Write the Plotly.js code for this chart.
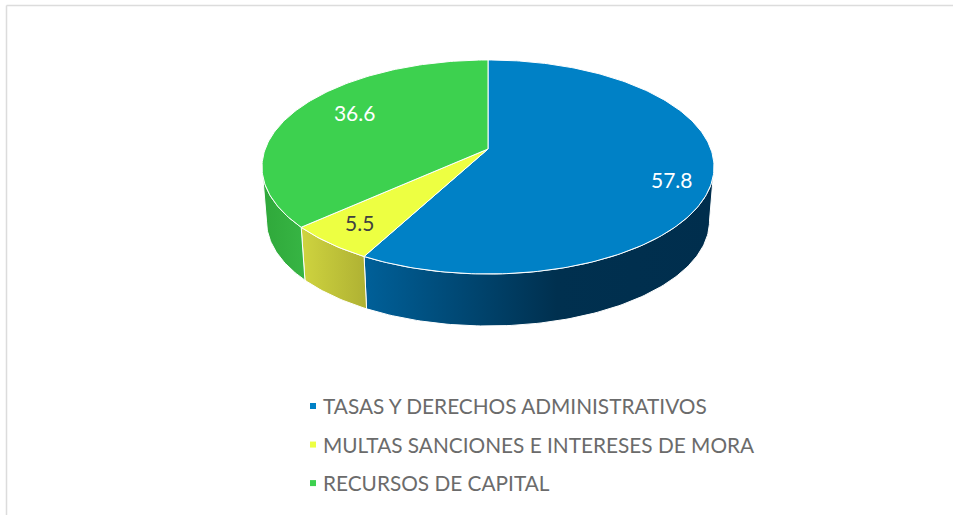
<!DOCTYPE html>
<html>
<head>
<meta charset="utf-8">
<script src="https://cdn.plot.ly/plotly-3.0.1.min.js"></script>
<style>html,body{margin:0;padding:0;background:#fff}#chart{width:953px;height:515px}</style>
</head>
<body>
<div id="chart"></div>
<script>
const categories = ['TASAS Y DERECHOS ADMINISTRATIVOS', 'MULTAS SANCIONES E INTERESES DE MORA', 'RECURSOS DE CAPITAL'];
const values = [57.8, 5.5, 36.6];
const topColors = ['#0081C6', '#EDFF42', '#3DD14F'];
const sideStops = [
  [[0, '#006099'], [0.55, '#00304F'], [1, '#002E4D']],
  [[0, '#CFD43F'], [1, '#AFB133']],
  [[0, '#2FA83A'], [1, '#37B544']]
];
const labelColors = ['#FFFFFF', '#404040', '#FFFFFF'];
const labelNudge = [[5, 13], [-5, 4], [21, -1]];

// perspective pie geometry (axes are in page pixels)
const apexX = 488, apexY = 149, baseApexY = 203.5;
const ra = 222.8, rb = 104, persp = 0.168, baseScale = 0.98;
const total = values.reduce((a, b) => a + b, 0);

function proj(theta, r, y0, s) {
  const u = Math.sin(theta) * r, v = Math.cos(theta) * r, w = 1 + persp * v;
  return [apexX + s * ra * u / w, y0 - s * rb * v / w];
}
function arc(t0, t1, y0, s) {
  const n = Math.max(2, Math.ceil(Math.abs(t1 - t0) * 60));
  const pts = [];
  for (let i = 0; i <= n; i++) pts.push(proj(t0 + (t1 - t0) * i / n, 1, y0, s));
  return pts;
}
const visA = Math.acos(-persp), visB = 2 * Math.PI - visA;

const traces = [], angles = [];
let acc = 0;
values.forEach((val, i) => {
  const t0 = acc / total * 2 * Math.PI;
  acc += val;
  const t1 = acc / total * 2 * Math.PI;
  angles.push([t0, t1]);
});
// sides
values.forEach((val, i) => {
  const a = Math.max(angles[i][0], visA), b = Math.min(angles[i][1], visB);
  if (b <= a) return;
  const top = arc(a, b, apexY, 1), bot = arc(b, a, baseApexY, baseScale);
  const poly = top.concat(bot);
  poly.push(top[0]);
  const xs = poly.map(p => p[0]);
  traces.push({
    type: 'scatter', mode: 'lines', x: xs, y: poly.map(p => p[1]), fill: 'toself',
    line: {color: '#FFFFFF', width: 1},
    fillgradient: {type: 'horizontal', start: Math.min(...xs), stop: Math.max(...xs), colorscale: sideStops[i]},
    hoverinfo: 'skip', showlegend: false
  });
});
// top faces
values.forEach((val, i) => {
  const pts = [[apexX, apexY]].concat(arc(angles[i][0], angles[i][1], apexY, 1));
  pts.push([apexX, apexY]);
  traces.push({
    type: 'scatter', mode: 'lines', x: pts.map(p => p[0]), y: pts.map(p => p[1]), fill: 'toself',
    fillcolor: topColors[i], line: {color: '#FFFFFF', width: 1},
    hoverinfo: 'skip', showlegend: false
  });
});
// value labels
values.forEach((val, i) => {
  const p = proj((angles[i][0] + angles[i][1]) / 2, 0.8, apexY, 1);
  traces.push({
    type: 'scatter', mode: 'text', x: [p[0] + labelNudge[i][0]], y: [p[1] + labelNudge[i][1]],
    text: [val.toFixed(1)], textposition: 'middle center',
    textfont: {family: 'Lato, sans-serif', size: 21, color: labelColors[i]},
    hoverinfo: 'skip', showlegend: false
  });
});
// legend entries
categories.forEach((c, i) => {
  traces.push({
    type: 'scatter', mode: 'markers', x: [null], y: [null], name: c, legendgroup: 'g' + i,
    marker: {symbol: 'square', size: 6, color: topColors[i]}, hoverinfo: 'skip'
  });
});

const layout = {
  width: 953, height: 515,
  margin: {l: 0, r: 0, t: 0, b: 0},
  paper_bgcolor: '#FFFFFF', plot_bgcolor: '#FFFFFF',
  xaxis: {range: [0, 953], visible: false, fixedrange: true},
  yaxis: {range: [515, 0], visible: false, fixedrange: true},
  showlegend: true,
  legend: {
    x: 283 / 953, y: 1 - 386 / 515, xanchor: 'left', yanchor: 'top', traceorder: 'grouped',
    tracegroupgap: 8.5, bgcolor: 'rgba(0,0,0,0)',
    font: {family: 'Lato, sans-serif', size: 20.8, color: '#6B6B6B'}
  },
  shapes: [
    {type: 'line', xref: 'paper', yref: 'paper', x0: 6.5 / 953, x1: 1, y0: 1 - 5.5 / 515, y1: 1 - 5.5 / 515, line: {color: '#DCDCDC', width: 1.5}},
    {type: 'line', xref: 'paper', yref: 'paper', x0: 6.5 / 953, x1: 6.5 / 953, y0: 0, y1: 1 - 5.5 / 515, line: {color: '#DCDCDC', width: 1.5}}
  ]
};
Plotly.newPlot('chart', traces, layout, {displayModeBar: false, staticPlot: true}).then(() => {
  // the reference sets its legend squares closer to the text than Plotly's minimum item width
  document.querySelectorAll('#chart .legend .legendpoints').forEach(g => g.setAttribute('transform', 'translate(10,0)'));
});
</script>
</body>
</html>
